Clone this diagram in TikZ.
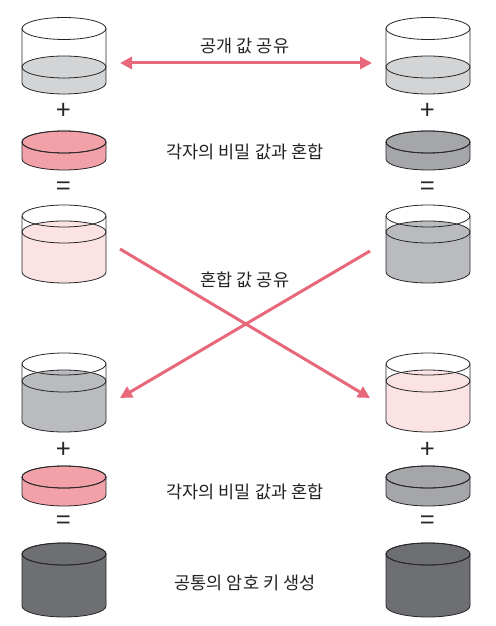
\documentclass[tikz,border=0pt]{standalone}
\usepackage{fontspec}
\newfontfamily\kr{Noto Sans CJK KR}
\usetikzlibrary{arrows.meta}
\definecolor{arrowpink}{HTML}{E8687B}
\definecolor{liqgray}{HTML}{D3D4D6}
\definecolor{diskpink}{HTML}{F3A1A9}
\definecolor{diskgray}{HTML}{A5A6A9}
\definecolor{mixpink}{HTML}{FBE2E3}
\definecolor{mixgray}{HTML}{B9BBBE}
\definecolor{keygray}{HTML}{6E6F72}
\definecolor{txt}{HTML}{222222}
\tikzset{
  cylline/.style={draw=black!85,line width=0.8pt},
  label/.style={font=\kr\fontsize{17.5}{20}\selectfont,text=txt},
  opsign/.style={font=\kr\fontsize{26}{26}\selectfont,text=black!85},
  flow/.style={draw=arrowpink,line width=3pt,-{Triangle[length=12pt,width=12pt]}},
  flowboth/.style={draw=arrowpink,line width=3pt,{Triangle[length=12pt,width=12pt]}-{Triangle[length=12pt,width=12pt]}}
}
\newcommand\drawcyl[5]{%
  \fill[#5] (#1-42,#4) -- (#1-42,#3) arc[start angle=180,end angle=360,x radius=42,y radius=11] -- (#1+42,#4) arc[start angle=0,end angle=180,x radius=42,y radius=11] -- cycle;
  \draw[cylline] (#1,#4) ellipse[x radius=42,y radius=11];
  \draw[cylline] (#1,#2) ellipse[x radius=42,y radius=11];
  \draw[cylline] (#1-42,#2) -- (#1-42,#3) arc[start angle=180,end angle=360,x radius=42,y radius=11] -- (#1+42,#2);
}
\begin{document}
\begin{tikzpicture}[x=1pt,y=1pt]
\useasboundingbox (0,0) rectangle (495,626);
\fill[white] (0,0) rectangle (495,626);
% left column
\drawcyl{64}{597.5}{543}{559}{liqgray}
\node[opsign] (pl1) at (64,515) {+};
\drawcyl{64}{484}{467}{484}{diskpink}
\node[opsign] (eq1) at (64,437) {=};
\drawcyl{64}{410}{354}{394}{mixpink}
\drawcyl{64}{262}{205}{245}{mixgray}
\node[opsign] (pl2) at (64,176) {+};
\drawcyl{64}{149}{131}{149}{diskpink}
\node[opsign] (eq2) at (64,103) {=};
\drawcyl{64}{72}{20}{72}{keygray}
% right column
\drawcyl{428}{597.5}{543}{559}{liqgray}
\node[opsign] (pr1) at (428,515) {+};
\drawcyl{428}{484}{467}{484}{diskgray}
\node[opsign] (er1) at (428,437) {=};
\drawcyl{428}{410}{354}{394}{mixgray}
\drawcyl{428}{262}{205}{245}{mixpink}
\node[opsign] (pr2) at (428,176) {+};
\drawcyl{428}{149}{131}{149}{diskgray}
\node[opsign] (er2) at (428,103) {=};
\drawcyl{428}{72}{20}{72}{keygray}
% connectors
\coordinate (pubL) at (120,563);
\coordinate (pubR) at (372,563);
\coordinate (mixLs) at (120,377);
\coordinate (mixLe) at (370,228);
\coordinate (mixRs) at (370,375);
\coordinate (mixRe) at (120,228);
\draw[flowboth] (pubL) -- (pubR);
\draw[flow] (mixLs) -- (mixLe);
\draw[flow] (mixRs) -- (mixRe);
% labels
\node[label] (t1) at (245,580) {공개 값 공유};
\node[label] (t2) at (245,474) {각자의 비밀 값과 혼합};
\node[label] (t3) at (245,346) {혼합 값 공유};
\node[label] (t4) at (245,134) {각자의 비밀 값과 혼합};
\node[label] (t5) at (245,43) {공통의 암호 키 생성};
\end{tikzpicture}
\end{document}
